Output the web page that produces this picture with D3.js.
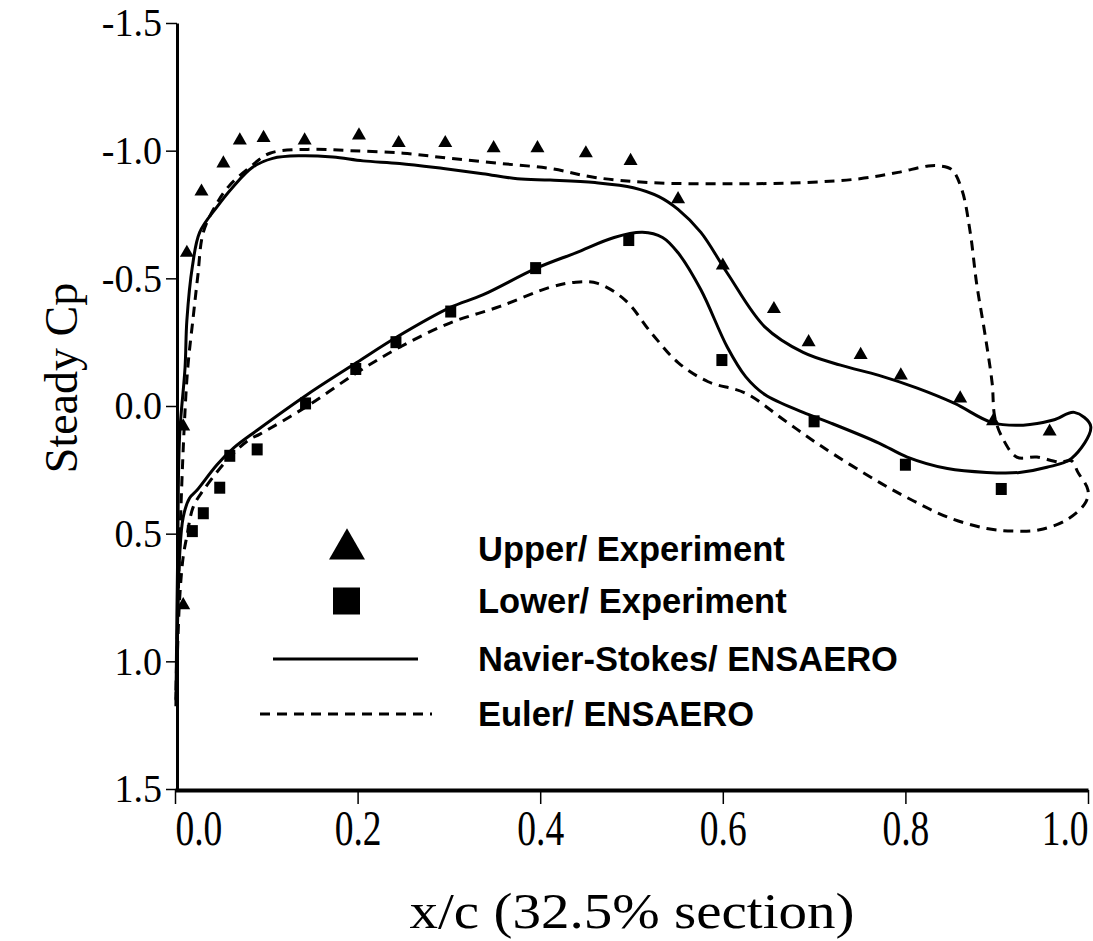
<!DOCTYPE html>
<html>
<head>
<meta charset="utf-8">
<script src="https://cdn.jsdelivr.net/npm/d3@7"></script>
<style>
  body { margin: 0; background: #fff; }
  svg { display: block; }
</style>
</head>
<body>
<script>
// experiment, upper surface
const upperX  = [0.009, 0.009, 0.013, 0.029, 0.053, 0.071, 0.097, 0.142, 0.2015, 0.245, 0.296, 0.349, 0.397, 0.45, 0.499, 0.551, 0.60, 0.656, 0.694, 0.751, 0.795, 0.86, 0.896, 0.958]
const upperCp = [0.78, 0.08, -0.60, -0.84, -0.95, -1.04, -1.05, -1.04, -1.06, -1.03, -1.03, -1.01, -1.01, -0.99, -0.96, -0.81, -0.55, -0.38, -0.25, -0.20, -0.12, -0.03, 0.06, 0.10]

// experiment, lower surface
const lowerX  = [0.019, 0.031, 0.049, 0.06, 0.09, 0.143, 0.198, 0.242, 0.302, 0.395, 0.497, 0.599, 0.70, 0.80, 0.905]
const lowerCp = [0.49, 0.42, 0.32, 0.195, 0.17, -0.01, -0.145, -0.25, -0.37, -0.54, -0.65, -0.18, 0.06, 0.23, 0.325]

// Navier-Stokes / ENSAERO, closed loop: LE -> lower -> TE -> upper -> LE
const nsX  = [0.001, 0.002, 0.005, 0.009, 0.016, 0.024, 0.046, 0.064, 0.090, 0.145, 0.199, 0.243, 0.301, 0.337, 0.396, 0.439, 0.481, 0.512, 0.534, 0.551, 0.576, 0.605, 0.625, 0.646, 0.688, 0.717, 0.771, 0.802, 0.846, 0.889, 0.925, 0.955, 0.982, 1.003,
              0.985, 0.962, 0.929, 0.895, 0.854, 0.813, 0.771, 0.729, 0.688, 0.646, 0.605, 0.576, 0.551, 0.530, 0.502, 0.460, 0.411, 0.375, 0.337, 0.294, 0.246, 0.206, 0.173, 0.137, 0.107, 0.085, 0.064, 0.046, 0.027, 0.019, 0.013, 0.011, 0.005, 0.003]
const nsCp = [1.17, 0.93, 0.59, 0.435, 0.36, 0.33, 0.23, 0.165, 0.095, -0.045, -0.17, -0.27, -0.385, -0.435, -0.54, -0.60, -0.66, -0.68, -0.66, -0.60, -0.455, -0.23, -0.115, -0.045, 0.025, 0.065, 0.145, 0.20, 0.245, 0.26, 0.26, 0.24, 0.205, 0.08,
              0.025, 0.055, 0.075, 0.065, -0.01, -0.07, -0.12, -0.16, -0.21, -0.31, -0.52, -0.68, -0.77, -0.82, -0.855, -0.875, -0.885, -0.89, -0.91, -0.93, -0.95, -0.96, -0.975, -0.98, -0.97, -0.935, -0.86, -0.78, -0.68, -0.545, -0.335, -0.15, 0.12, 0.56]

// Euler / ENSAERO, closed loop
const eulerX  = [0.001, 0.005, 0.009, 0.013, 0.020, 0.031, 0.060, 0.082, 0.093, 0.145, 0.199, 0.246, 0.301, 0.356, 0.411, 0.439, 0.463, 0.493, 0.522, 0.551, 0.584, 0.625, 0.667, 0.709, 0.772, 0.808, 0.846, 0.889, 0.918, 0.947, 0.977, 0.997, 1.000, 0.989, 0.982,
                 0.969, 0.944, 0.922, 0.907, 0.898, 0.895, 0.887, 0.878, 0.871, 0.862, 0.851, 0.838, 0.825, 0.792, 0.750, 0.688, 0.605, 0.521, 0.460, 0.411, 0.356, 0.301, 0.250, 0.192, 0.145, 0.104, 0.082, 0.060, 0.046, 0.031, 0.025, 0.020, 0.014, 0.010, 0.005]
const eulerCp = [1.15, 0.76, 0.59, 0.51, 0.395, 0.33, 0.20, 0.13, 0.11, 0.00, -0.13, -0.23, -0.325, -0.39, -0.465, -0.485, -0.48, -0.415, -0.285, -0.17, -0.095, -0.05, 0.055, 0.16, 0.30, 0.37, 0.435, 0.48, 0.49, 0.485, 0.445, 0.38, 0.33, 0.26, 0.215,
                 0.22, 0.20, 0.20, 0.13, 0.045, -0.09, -0.285, -0.48, -0.68, -0.845, -0.925, -0.94, -0.94, -0.915, -0.89, -0.875, -0.87, -0.875, -0.895, -0.93, -0.95, -0.97, -0.99, -1.00, -1.005, -0.99, -0.935, -0.865, -0.795, -0.68, -0.51, -0.35, -0.15, 0.09, 0.56]

const xTicks = [0, 0.2, 0.4, 0.6, 0.8, 1.0]
const yTicks = [-1.5, -1.0, -0.5, 0.0, 0.5, 1.0, 1.5]
const legendLabels = ['Upper/ Experiment', 'Lower/ Experiment', 'Navier-Stokes/ ENSAERO', 'Euler/ ENSAERO']

const width = 1093
const height = 941

const svg = d3.select('body').append('svg').attr('width', width).attr('height', height)

const xScale = d3.scaleLinear().domain([0, 1]).range([175, 1088])
const yScale = d3.scaleLinear().domain([-1.5, 1.5]).range([23, 789])

const serif = '"Liberation Serif", "Times New Roman", serif'
const sans = '"Liberation Sans", Arial, sans-serif'

// the scanned tick numbers are tall and narrow: bigger font squeezed to a Times-38 width
const numWidth = d => (d < 0 ? 1.583 : 1.25) * 38

// y axis
const yAxis = d3.axisLeft(yScale).tickValues(yTicks).tickSize(11).tickSizeOuter(0).tickPadding(4).tickFormat(d => d.toFixed(1))
const gy = svg.append('g').attr('transform', 'translate(177,0)').call(yAxis)
gy.select('.domain').attr('stroke-width', 3)
gy.selectAll('.tick line').attr('stroke-width', 1.5)
gy.selectAll('.tick text').attr('font-family', serif).attr('font-size', 40).attr('fill', '#000')
  .attr('textLength', numWidth).attr('lengthAdjust', 'spacingAndGlyphs')

// x axis
const xAxis = d3.axisBottom(xScale).tickValues(xTicks).tickSize(14).tickSizeOuter(0).tickPadding(6).tickFormat(d => d.toFixed(1))
const gx = svg.append('g').attr('transform', 'translate(0,790)').call(xAxis)
gx.select('.domain').attr('stroke-width', 4)
gx.selectAll('.tick line').attr('stroke-width', 1.5)
gx.selectAll('.tick text').attr('font-family', serif).attr('font-size', 50).attr('fill', '#000')
  .attr('transform', 'scale(0.75,1)')
  .attr('text-anchor', d => d === 0 ? 'start' : d === 1 ? 'end' : 'middle')

// axis titles
svg.append('text').attr('transform', 'translate(77,378) rotate(-90)')
  .attr('text-anchor', 'middle').attr('font-family', serif).attr('font-size', 46).text('Steady Cp')
svg.append('text').attr('x', 632).attr('y', 928)
  .attr('text-anchor', 'middle').attr('font-family', serif).attr('font-size', 50)
  .attr('textLength', 445).attr('lengthAdjust', 'spacingAndGlyphs').text('x/c (32.5% section)')

// curves
const loop = d3.line().x(d => xScale(d[0])).y(d => yScale(d[1])).curve(d3.curveCatmullRomClosed.alpha(0.5))

svg.append('path').datum(d3.zip(nsX, nsCp)).attr('d', loop)
  .attr('fill', 'none').attr('stroke', '#000').attr('stroke-width', 3)
svg.append('path').datum(d3.zip(eulerX, eulerCp)).attr('d', loop)
  .attr('fill', 'none').attr('stroke', '#000').attr('stroke-width', 3).attr('stroke-dasharray', '10,7')

// markers
const tri = d3.symbol().type(d3.symbolTriangle).size(85)
svg.selectAll('.up').data(d3.zip(upperX, upperCp)).enter().append('path')
  .attr('class', 'up').attr('d', tri)
  .attr('transform', d => `translate(${xScale(d[0])},${yScale(d[1])})`)
svg.selectAll('.low').data(d3.zip(lowerX, lowerCp)).enter().append('rect')
  .attr('class', 'low')
  .attr('x', d => xScale(d[0]) - 5.5).attr('y', d => yScale(d[1]) - 6)
  .attr('width', 11).attr('height', 12)

// legend
const leg = svg.append('g')
const rowY = [549, 601, 659, 714]
leg.append('path').attr('d', d3.symbol().type(d3.symbolTriangle).size(560)).attr('transform', `translate(347,${rowY[0]})`)
leg.append('rect').attr('x', 333).attr('y', rowY[1] - 13.5).attr('width', 27).attr('height', 27)
leg.append('line').attr('x1', 273).attr('x2', 418).attr('y1', rowY[2]).attr('y2', rowY[2]).attr('stroke', '#000').attr('stroke-width', 3)
leg.append('line').attr('x1', 260).attr('x2', 432).attr('y1', rowY[3]).attr('y2', rowY[3]).attr('stroke', '#000').attr('stroke-width', 3).attr('stroke-dasharray', '10,7')
leg.selectAll('text').data(legendLabels).enter().append('text')
  .attr('x', 478).attr('y', (d, i) => rowY[i] + 12)
  .attr('font-family', sans).attr('font-weight', 'bold').attr('font-size', 34.5)
  .text(d => d)
</script>
</body>
</html>
